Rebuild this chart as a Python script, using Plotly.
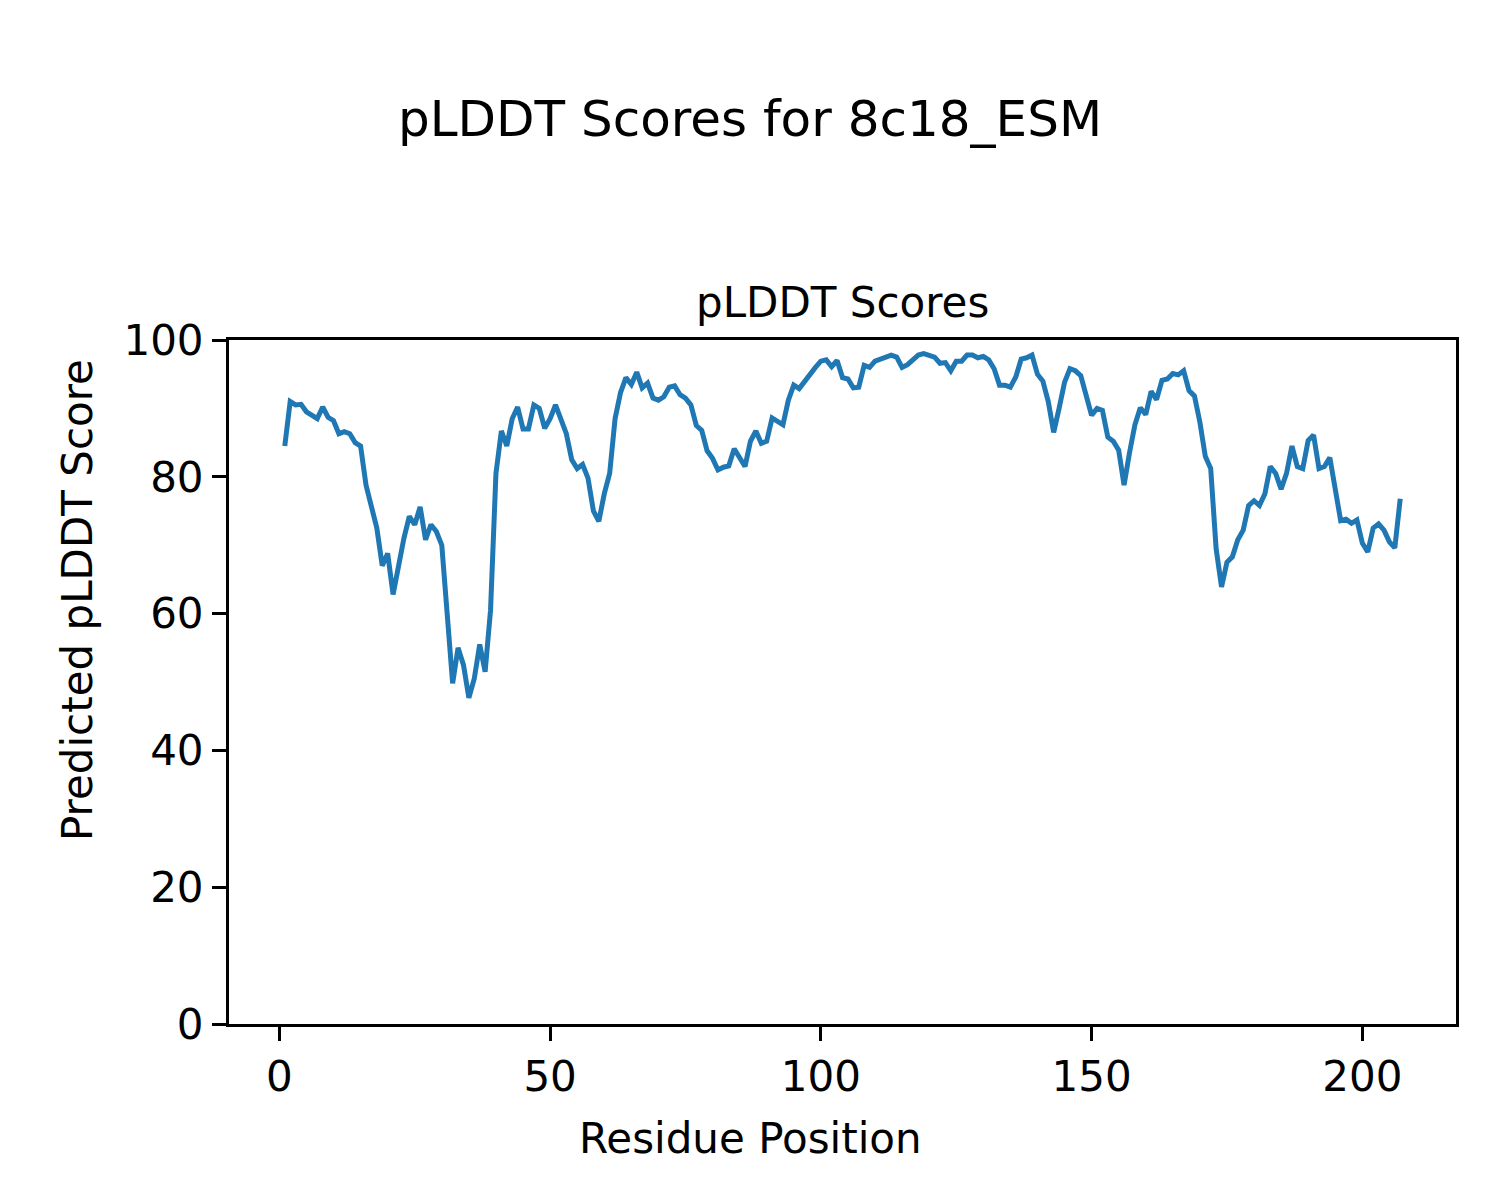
import plotly.graph_objects as go

residues = list(range(1, 208))
plddt = [
    84.5, 91.0, 90.5, 90.6, 89.5, 89.0, 88.5, 90.2, 88.7, 88.2,
    86.3, 86.6, 86.3, 85.0, 84.5, 78.8, 75.5, 72.5, 67.0, 68.8,
    62.8, 67.0, 71.0, 74.2, 73.0, 75.6, 70.8, 73.0, 72.0, 70.0,
    60.5, 49.8, 55.0, 52.5, 47.7, 50.5, 55.5, 51.5, 60.5, 80.5,
    86.7, 84.5, 88.5, 90.2, 87.0, 87.0, 90.5, 90.0, 87.1, 88.5,
    90.5, 88.5, 86.3, 82.5, 81.2, 81.8, 79.8, 75.0, 73.5, 77.5,
    80.5, 88.5, 92.3, 94.5, 93.5, 95.3, 93.0, 93.7, 91.5, 91.2,
    91.7, 93.1, 93.3, 92.0, 91.5, 90.5, 87.5, 86.8, 83.8, 82.7,
    81.0, 81.4, 81.6, 84.1, 82.9, 81.5, 85.2, 86.7, 84.9, 85.2,
    88.6, 88.2, 87.6, 91.2, 93.4, 92.9, 94.0, 95.0, 96.0, 96.9,
    97.1, 96.1, 97.0, 94.5, 94.3, 93.0, 93.1, 96.3, 96.0, 96.9,
    97.2, 97.4, 97.8, 97.5, 96.0, 96.4, 97.2, 97.8, 98.0, 97.8,
    97.5, 96.6, 96.7, 95.5, 96.9, 96.9, 97.8, 97.8, 97.4, 97.6,
    97.1, 95.8, 93.4, 93.4, 93.1, 94.6, 97.2, 97.4, 97.8, 95.0,
    94.0, 91.0, 86.5, 90.0, 93.8, 95.8, 95.5, 94.8, 91.7, 89.0,
    90.0, 89.7, 85.8, 85.2, 83.9, 78.8, 83.5, 87.6, 90.1, 89.1,
    92.5, 91.3, 94.1, 94.3, 95.1, 94.9, 95.5, 92.6, 91.8, 88.0,
    83.0, 81.2, 69.5, 63.9, 67.5, 68.3, 70.8, 72.2, 75.8, 76.5,
    75.8, 77.5, 81.5, 80.5, 78.2, 80.5, 84.5, 81.5, 81.2, 85.3,
    86.1, 81.2, 81.5, 82.8, 78.2, 73.6, 73.8, 73.2, 73.7, 70.3,
    69.0, 72.5, 73.1, 72.2, 70.5, 69.6, 76.8,
]
x_ticks = [0, 50, 100, 150, 200]
y_ticks = [0, 20, 40, 60, 80, 100]

FONT = "DejaVu Sans"
W, H = 1484, 1184  # page body has an 8px margin
ML, MR, MT, MB = 221, 36, 332, 168
PW, PH = W - ML - MR, H - MT - MB


def px_to_paper_x(px):
    return (px - 8 - ML) / PW


def px_to_paper_y(py):
    return (H - MB - (py - 8)) / PH


fig = go.Figure()
fig.add_trace(go.Scatter(
    x=residues, y=plddt, mode="lines",
    line=dict(color="#1f77b4", width=5),
    showlegend=False,
))

fig.update_layout(
    width=W, height=H,
    paper_bgcolor="white", plot_bgcolor="white",
    margin=dict(l=ML, r=MR, t=MT, b=MB),
    font=dict(family=FONT, size=42, color="black"),
    title=dict(
        text="pLDDT Scores for 8c18_ESM",
        x=0.5, xanchor="center", xref="container",
        y=1 - 110 / H, yanchor="middle", yref="container",
        font=dict(family=FONT, size=50, color="black"),
    ),
    annotations=[
        dict(text="pLDDT Scores", x=0.5, y=1, xref="paper", yref="paper",
             xanchor="center", yanchor="middle", yshift=38, showarrow=False,
             font=dict(family=FONT, size=42, color="black")),
        dict(text="Residue Position", x=px_to_paper_x(750), y=px_to_paper_y(1138),
             xref="paper", yref="paper", xanchor="center", yanchor="middle",
             showarrow=False, font=dict(family=FONT, size=42, color="black")),
        dict(text="Predicted pLDDT Score", x=px_to_paper_x(77), y=px_to_paper_y(600),
             xref="paper", yref="paper", xanchor="center", yanchor="middle",
             textangle=-90, showarrow=False,
             font=dict(family=FONT, size=42, color="black")),
    ],
)

fig.update_xaxes(
    range=[-9.3, 217.3], tickmode="array", tickvals=x_ticks,
    ticks="outside", ticklen=14, tickwidth=3, tickcolor="black",
    showline=True, linecolor="black", linewidth=3, mirror=True,
    showgrid=False, zeroline=False,
    tickfont=dict(family=FONT, size=42, color="black"),
)
fig.update_yaxes(
    range=[0, 100], tickmode="array", tickvals=y_ticks,
    ticks="outside", ticklen=14, tickwidth=3, tickcolor="black",
    showline=True, linecolor="black", linewidth=3, mirror=True,
    showgrid=False, zeroline=False,
    tickfont=dict(family=FONT, size=42, color="black"),
)

fig.write_html("out.html")
